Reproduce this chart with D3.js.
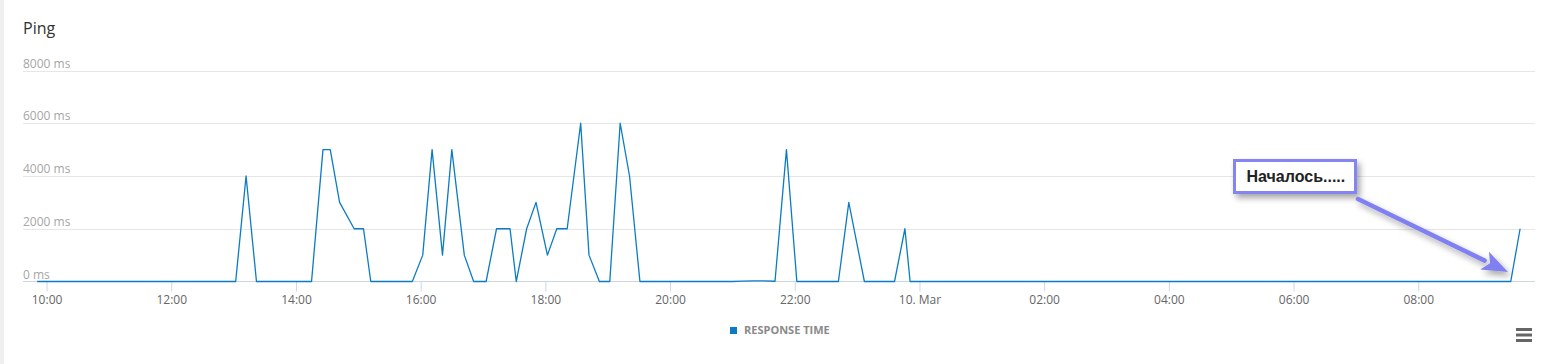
<!DOCTYPE html>
<html>
<head>
<meta charset="utf-8">
<script src="https://cdn.jsdelivr.net/npm/d3@7"></script>
<style>
  html, body { margin: 0; padding: 0; background: #fff; }
  body { width: 1551px; height: 364px; overflow: hidden; }
  svg text { font-family: "Open Sans", sans-serif; }
  svg text.note-text { font-family: "Liberation Sans", Arial, sans-serif; }
</style>
</head>
<body>
<div class="chart"></div>
<script>
// ping measurements (time, response time in ms)
var pingTimes = [
    "2014-03-09 09:51", "2014-03-09 13:02", "2014-03-09 13:12", "2014-03-09 13:22",
    "2014-03-09 14:15", "2014-03-09 14:26", "2014-03-09 14:33", "2014-03-09 14:42",
    "2014-03-09 14:56", "2014-03-09 15:05", "2014-03-09 15:12", "2014-03-09 15:52",
    "2014-03-09 16:02", "2014-03-09 16:11", "2014-03-09 16:21", "2014-03-09 16:30",
    "2014-03-09 16:42", "2014-03-09 16:51", "2014-03-09 17:03", "2014-03-09 17:13",
    "2014-03-09 17:26", "2014-03-09 17:32", "2014-03-09 17:42", "2014-03-09 17:51",
    "2014-03-09 18:02", "2014-03-09 18:11", "2014-03-09 18:21", "2014-03-09 18:34",
    "2014-03-09 18:42", "2014-03-09 18:52", "2014-03-09 19:02", "2014-03-09 19:12",
    "2014-03-09 19:21", "2014-03-09 19:31", "2014-03-09 21:00", "2014-03-09 21:10",
    "2014-03-09 21:20", "2014-03-09 21:30", "2014-03-09 21:41", "2014-03-09 21:52",
    "2014-03-09 22:02", "2014-03-09 22:42", "2014-03-09 22:52", "2014-03-09 23:07",
    "2014-03-09 23:36", "2014-03-09 23:46", "2014-03-09 23:51", "2014-03-10 09:29",
    "2014-03-10 09:38"
];
var pingValues = [
    0, 0, 4000, 0,
    0, 5000, 5000, 3000,
    2000, 2000, 0, 0,
    1000, 5000, 1000, 5000,
    1000, 0, 0, 2000,
    2000, 0, 2000, 3000,
    1000, 2000, 2000, 6000,
    1000, 0, 0, 6000,
    4000, 0, 0, 15,
    25, 20, 10, 5000,
    0, 0, 3000, 0,
    0, 2000, 0, 0,
    2000
];

var yTicks = [0, 2000, 4000, 6000, 8000];
var xTickTimes = [
    "2014-03-09 10:00", "2014-03-09 12:00", "2014-03-09 14:00", "2014-03-09 16:00",
    "2014-03-09 18:00", "2014-03-09 20:00", "2014-03-09 22:00", "2014-03-10 00:00",
    "2014-03-10 02:00", "2014-03-10 04:00", "2014-03-10 06:00", "2014-03-10 08:00"
];
var xTickLabels = ["10:00", "12:00", "14:00", "16:00", "18:00", "20:00", "22:00",
    "10. Mar", "02:00", "04:00", "06:00", "08:00"];

var seriesName = "RESPONSE TIME";
var chartTitle = "Ping";
var noteText = "Началось.....";

var parseTime = d3.timeParse("%Y-%m-%d %H:%M");
var parseTimeSec = d3.timeParse("%Y-%m-%d %H:%M:%S");

var W = 1551, H = 364;
var lineColor = "#0b7cc4";

var svg = d3.select(".chart").append("svg")
    .attr("width", W)
    .attr("height", H);

// grey strip on the left edge
svg.append("rect")
    .attr("x", 0).attr("y", 0)
    .attr("width", 4).attr("height", H)
    .attr("fill", "#efefef");

// scales
var x = d3.scaleTime()
    .domain([parseTimeSec("2014-03-09 09:37:20"), parseTimeSec("2014-03-10 09:52:20")])
    .range([23, 1535]);
var y = d3.scaleLinear()
    .domain([0, 8000])
    .range([281.5, 70.5]);

// title
svg.append("text")
    .attr("x", 23)
    .attr("y", 34)
    .attr("font-size", 16)
    .attr("fill", "#333")
    .text(chartTitle);

// grid lines + y labels
var grid = svg.append("g").attr("class", "grid");
grid.selectAll("line")
    .data(yTicks.filter(function (d) { return d > 0; }))
    .enter().append("line")
    .attr("x1", 23).attr("x2", 1535)
    .attr("y1", function (d) { return Math.round(y(d)) + 0.5; })
    .attr("y2", function (d) { return Math.round(y(d)) + 0.5; })
    .attr("stroke", "#e6e6e6")
    .attr("stroke-width", 1);

grid.selectAll("text")
    .data(yTicks)
    .enter().append("text")
    .attr("x", 23)
    .attr("y", function (d) { return y(d) - 3; })
    .attr("font-size", 12)
    .attr("fill", "#a6a6a6")
    .text(function (d) { return d + " ms"; });

// x axis
var xAxis = d3.axisBottom(x)
    .tickValues(xTickTimes.map(parseTime))
    .tickSize(10)
    .tickPadding(4)
    .tickFormat(function (d, i) { return xTickLabels[i]; });

var gx = svg.append("g")
    .attr("class", "xAxis")
    .attr("transform", "translate(0,281.5)")
    .call(xAxis);
gx.select(".domain").attr("stroke", "#ccd6eb").attr("d", "M23,0H1535");
gx.selectAll(".tick line").attr("stroke", "#ccd6eb");
gx.selectAll(".tick text")
    .attr("font-size", 12)
    .attr("fill", "#666");

// series line
var points = pingTimes.map(function (t, i) {
    return { time: parseTime(t), value: pingValues[i] };
});
var line = d3.line()
    .x(function (d) { return x(d.time); })
    .y(function (d) { return y(d.value); });

svg.append("path")
    .datum(points)
    .attr("d", line)
    .attr("fill", "none")
    .attr("stroke", lineColor)
    .attr("stroke-width", 1.3)
    .attr("stroke-linejoin", "round");

// legend
var legend = svg.append("g").attr("class", "legend");
legend.append("rect")
    .attr("x", 730).attr("y", 327)
    .attr("width", 7).attr("height", 7)
    .attr("fill", lineColor);
legend.append("text")
    .attr("x", 744)
    .attr("y", 334)
    .attr("font-size", 11)
    .attr("font-weight", "bold")
    .attr("fill", "#8a8a8a")
    .text(seriesName);

// menu button
var menu = svg.append("g").attr("class", "menu");
[329.5, 335, 340.5].forEach(function (yy) {
    menu.append("line")
        .attr("x1", 1516).attr("x2", 1532)
        .attr("y1", yy).attr("y2", yy)
        .attr("stroke", "#666")
        .attr("stroke-width", 3);
});

// annotation (drawn on top of the screenshot)
var defs = svg.append("defs");
var f = defs.append("filter").attr("id", "shadow")
    .attr("x", "-20%").attr("y", "-40%").attr("width", "150%").attr("height", "200%");
f.append("feDropShadow")
    .attr("dx", 3).attr("dy", 4)
    .attr("stdDeviation", 3)
    .attr("flood-color", "#000")
    .attr("flood-opacity", 0.35);

var note = svg.append("g").attr("class", "note");
note.append("rect")
    .attr("x", 1234.5).attr("y", 160.5)
    .attr("width", 121).attr("height", 32)
    .attr("fill", "#fff")
    .attr("stroke", "#8585f2")
    .attr("stroke-width", 3)
    .attr("filter", "url(#shadow)");
note.append("text")
    .attr("class", "note-text")
    .attr("x", 1246.5)
    .attr("y", 182)
    .attr("font-size", 16)
    .attr("font-weight", "bold")
    .attr("fill", "#222")
    .text(noteText);

// arrow: shaft + head
var ax0 = 1358, ay0 = 199, ax1 = 1508, ay1 = 272;
var ang = Math.atan2(ay1 - ay0, ax1 - ax0);
var headLen = 26, headW = 10;
var bx = ax1 - headLen * Math.cos(ang), by = ay1 - headLen * Math.sin(ang);
var nx = -Math.sin(ang), ny = Math.cos(ang);
var arrow = note.append("g").attr("filter", "url(#shadow)");
arrow.append("line")
    .attr("x1", ax0).attr("y1", ay0)
    .attr("x2", bx).attr("y2", by)
    .attr("stroke", "#8080f0")
    .attr("stroke-width", 4.5)
    .attr("stroke-linecap", "round");
arrow.append("path")
    .attr("d", "M" + ax1 + "," + ay1 +
        "L" + (bx + nx * headW) + "," + (by + ny * headW) +
        "L" + (bx + 6 * Math.cos(ang)) + "," + (by + 6 * Math.sin(ang)) +
        "L" + (bx - nx * headW) + "," + (by - ny * headW) + "Z")
    .attr("fill", "#8080f0");
</script>
</body>
</html>
